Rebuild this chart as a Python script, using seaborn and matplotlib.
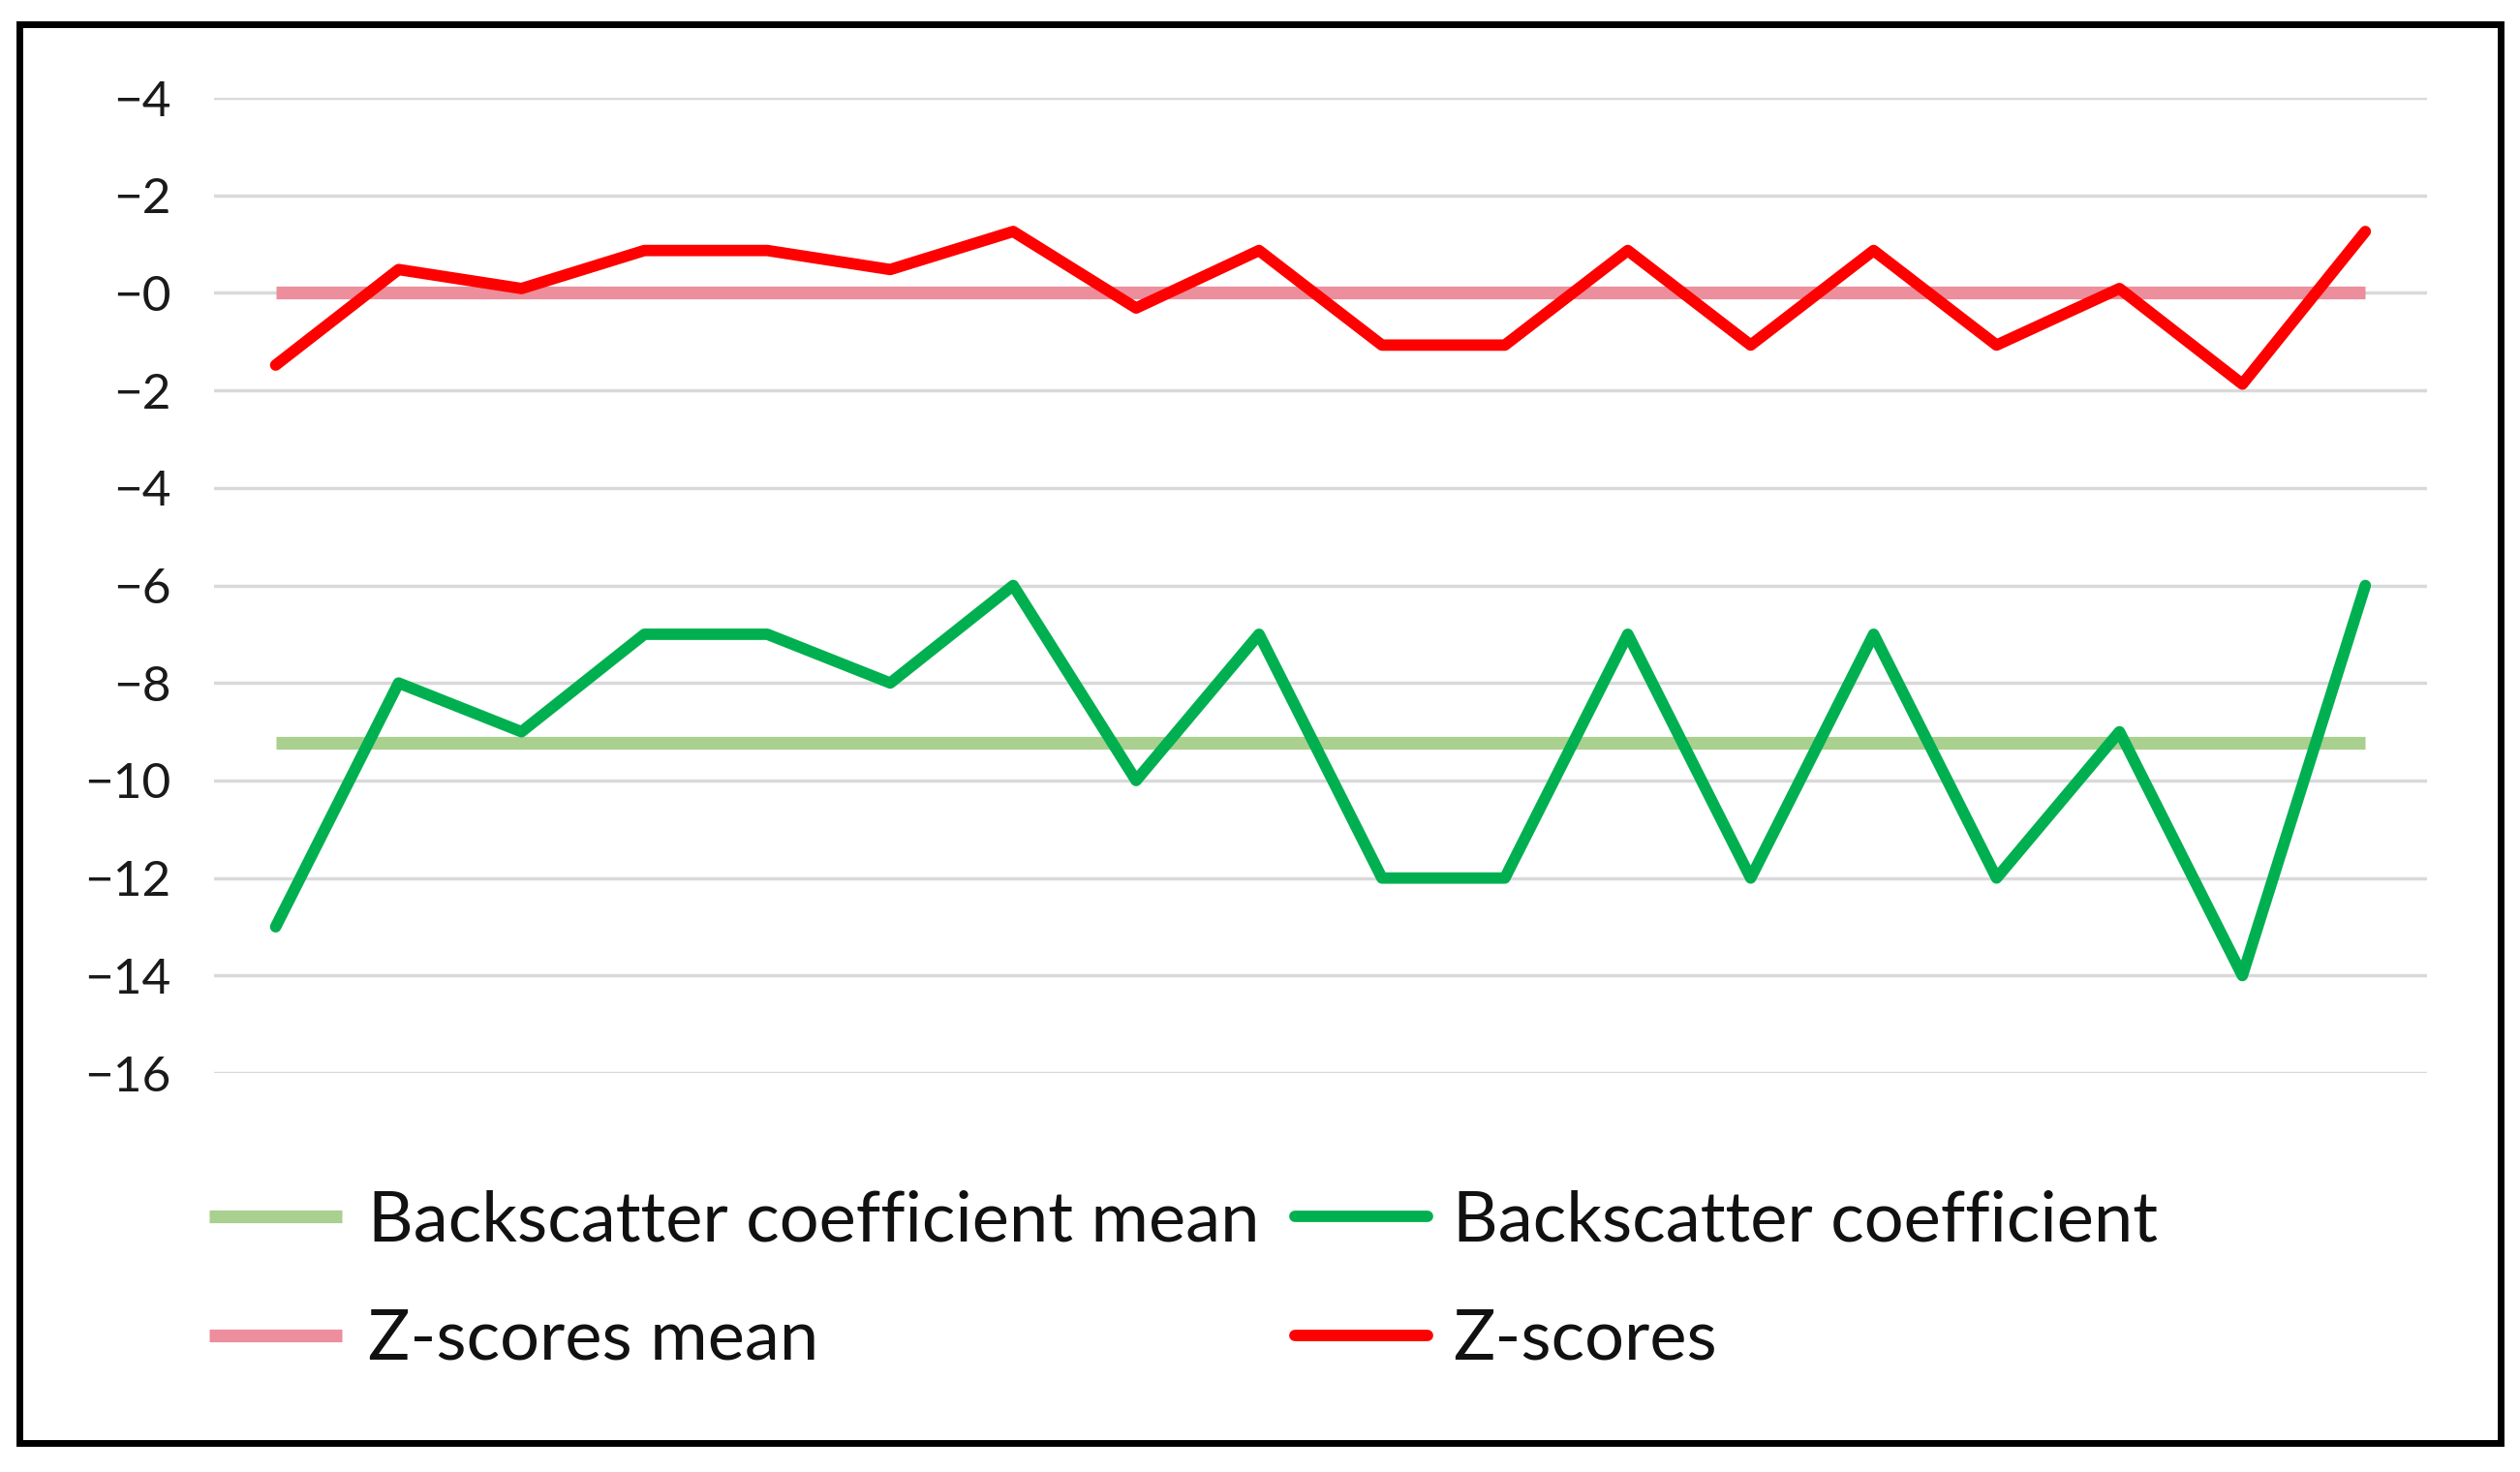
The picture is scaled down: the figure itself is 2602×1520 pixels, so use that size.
import numpy as np
import pandas as pd
import matplotlib
matplotlib.use("Agg")
import matplotlib.pyplot as plt
import seaborn as sns
from matplotlib.ticker import FuncFormatter
from matplotlib.patches import Rectangle

# values
sample_idx = list(range(18))
backscatter = [-13, -8, -9, -7, -7, -8, -6, -10, -7, -12, -12, -7, -12, -7, -12, -9, -14, -6]
backscatter_mean = [-9.22] * 18
z_scores = [-1.48, 0.48, 0.09, 0.87, 0.87, 0.48, 1.26, -0.31, 0.87, -1.07, -1.07, 0.87,
            -1.07, 0.87, -1.07, 0.09, -1.87, 1.26]
z_mean = [0.0] * 18
y_ticks = [4, 2, 0, -2, -4, -6, -8, -10, -12, -14, -16]

df = pd.DataFrame({
    "idx": sample_idx,
    "bs": backscatter,
    "bs_mean": backscatter_mean,
    "z": z_scores,
    "z_mean": z_mean,
})

sns.set_theme(style="white")
plt.rcParams["font.family"] = ["Lato", "DejaVu Sans"]

fig = plt.figure(figsize=(26.02, 15.20), dpi=100)
ax = fig.add_axes([0.085, 0.271, 0.878, 0.6625])

sns.lineplot(data=df, x="idx", y="bs_mean", ax=ax, color="#a9d08e", linewidth=9.5,
             label="Backscatter coefficient mean", solid_capstyle="butt")
sns.lineplot(data=df, x="idx", y="z_mean", ax=ax, color="#ec8e9c", linewidth=9.5,
             label="Z-scores mean", solid_capstyle="butt")
sns.lineplot(data=df, x="idx", y="bs", ax=ax, color="#00b050", linewidth=8.5,
             label="Backscatter coefficient", solid_capstyle="round")
sns.lineplot(data=df, x="idx", y="z", ax=ax, color="#ff0000", linewidth=8.5,
             label="Z-scores", solid_capstyle="round")

ax.set_xlim(-0.5, 17.5)
ax.set_ylim(-16, 4)
ax.set_yticks(y_ticks)
ax.yaxis.set_major_formatter(FuncFormatter(lambda v, p: "\u2212" + str(abs(int(round(v))))))
ax.set_xticks([])
ax.set_xlabel("")
ax.set_ylabel("")
ax.grid(axis="y", color="#d9d9d9", linewidth=2.5)
ax.set_axisbelow(True)
for s in ax.spines.values():
    s.set_visible(False)
ax.tick_params(axis="y", length=0, pad=32, labelsize=37, labelcolor="#1a1a1a")

handles, labels = ax.get_legend_handles_labels()
leg = ax.legend(handles, labels, ncol=2, loc="upper left", bbox_to_anchor=(0.083, 0.192),
                bbox_transform=fig.transFigure, frameon=False, fontsize=52,
                handlelength=1.9, handletextpad=0.37, columnspacing=0.5, labelspacing=0.8,
                borderpad=0, borderaxespad=0)
for t in leg.get_texts():
    t.set_color("#111111")

# black frame around the whole picture
fig.patches.append(Rectangle((0.0077, 0.0197), 0.9846, 0.9639, transform=fig.transFigure,
                             fill=False, edgecolor="black", linewidth=5, zorder=10))

fig.savefig("out.png", dpi=100)
